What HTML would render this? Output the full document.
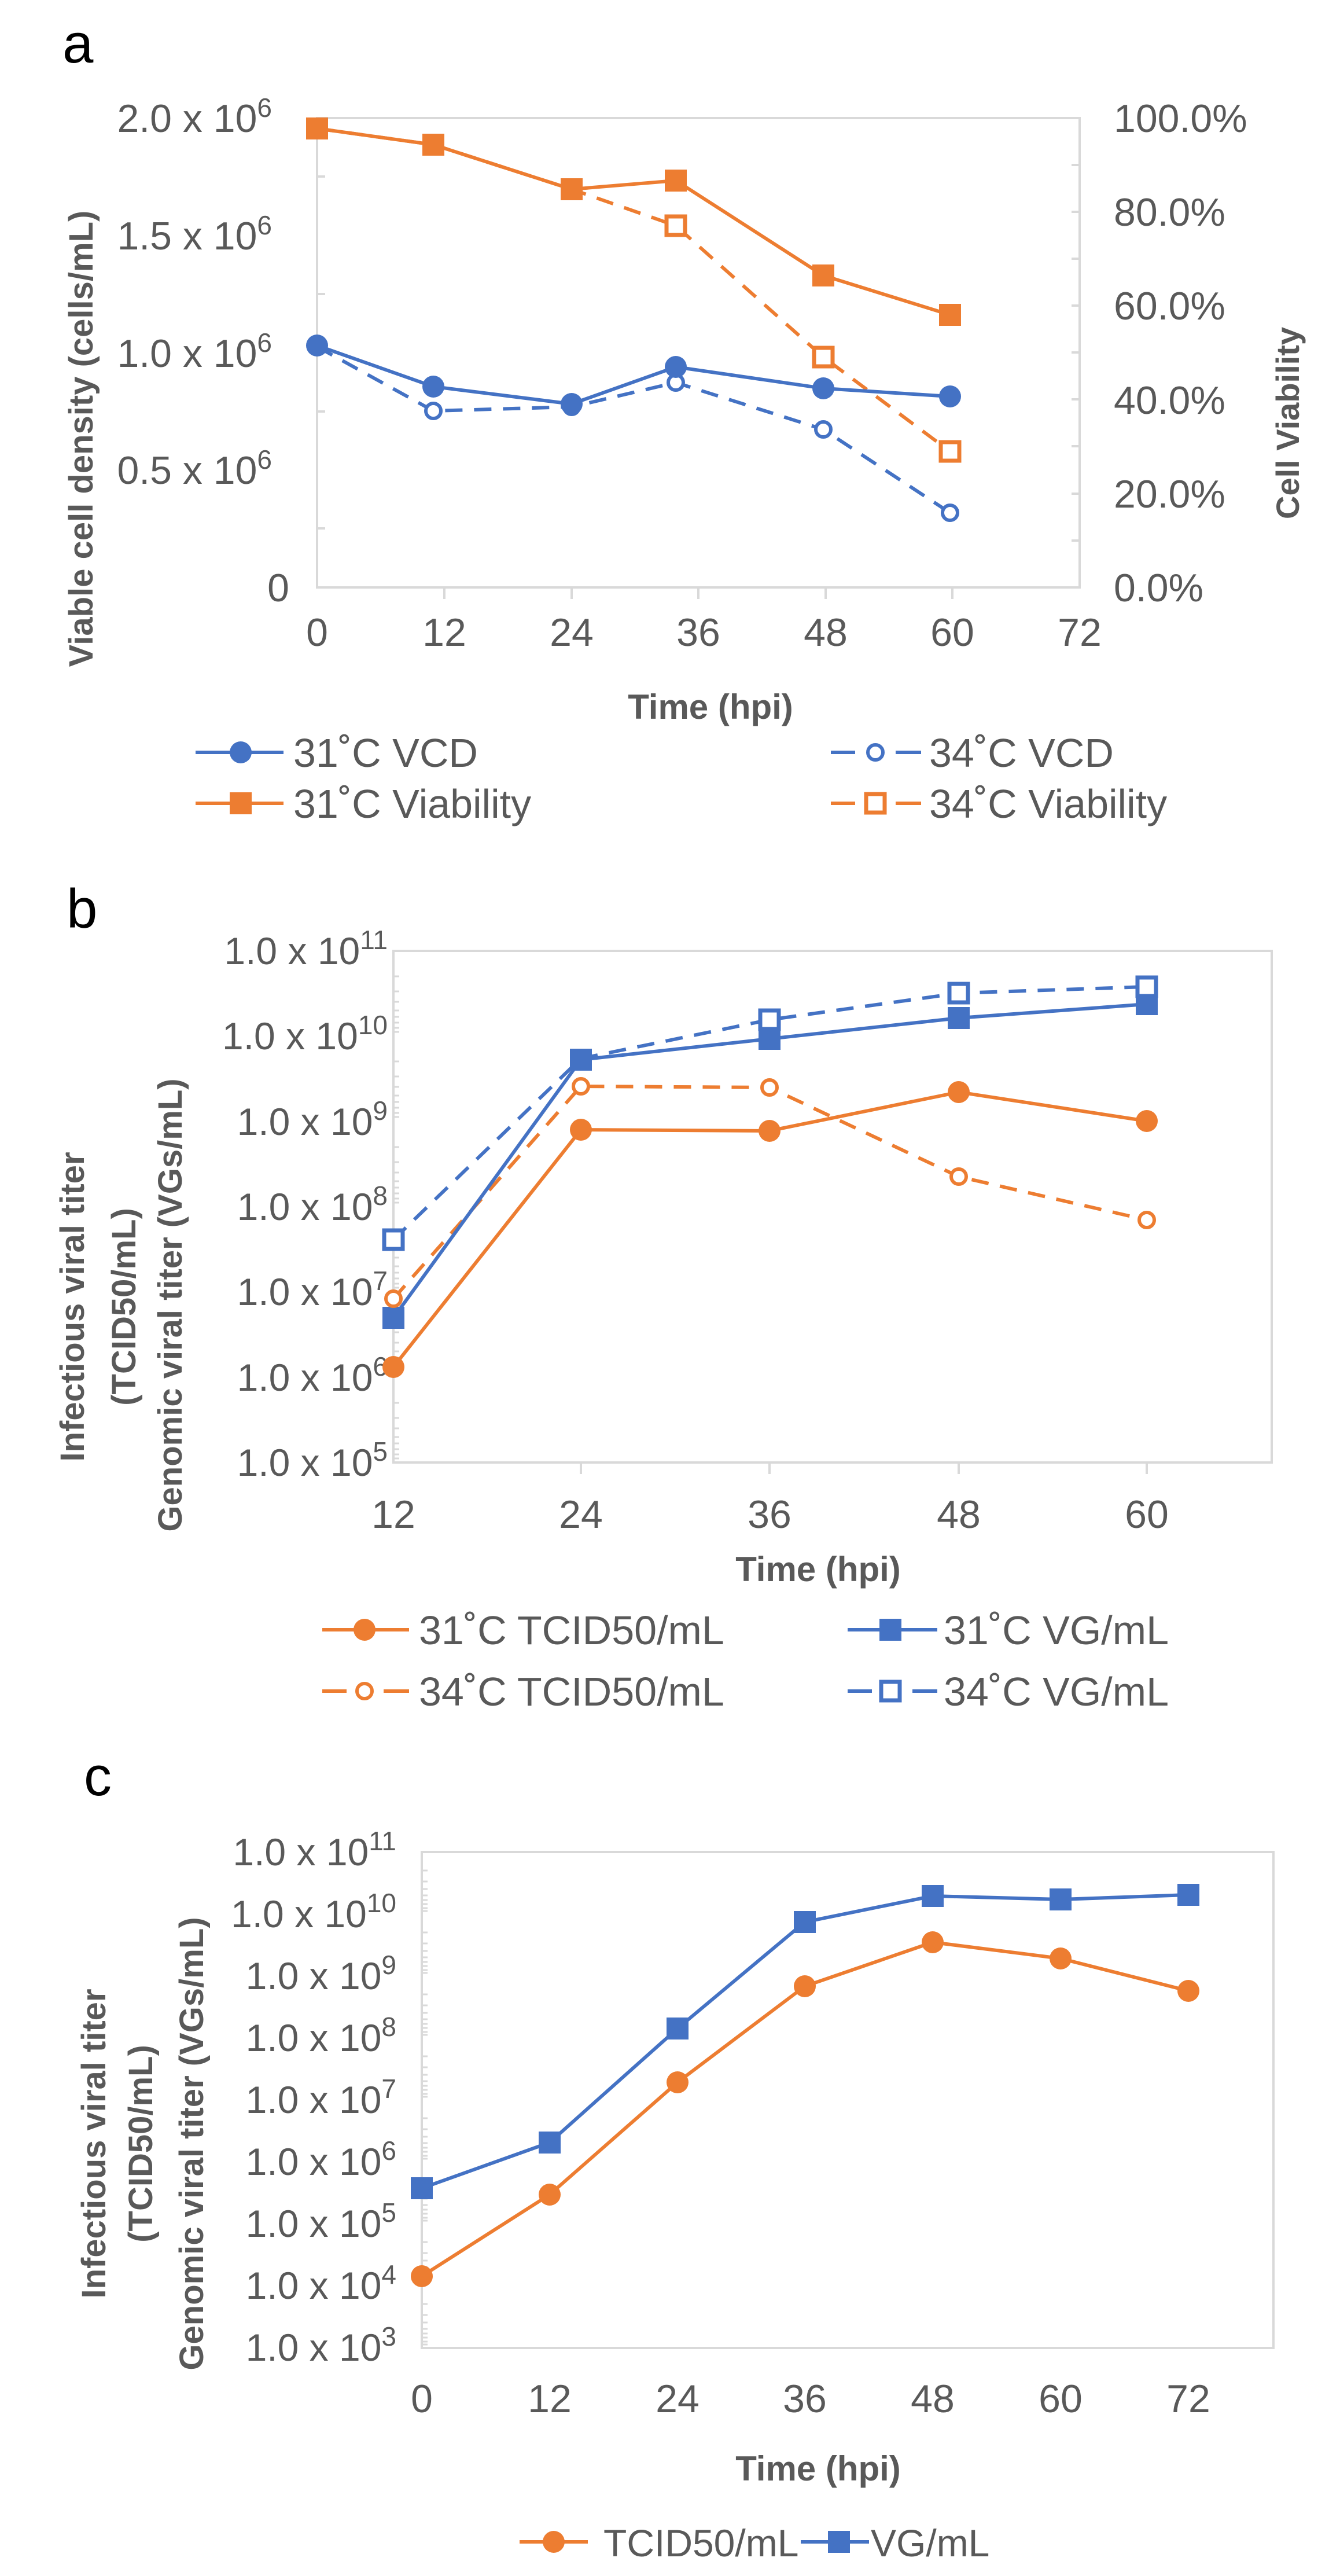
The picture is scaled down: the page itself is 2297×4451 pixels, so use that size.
<!DOCTYPE html>
<html><head><meta charset="utf-8"><style>
html,body{margin:0;padding:0;background:#fff}
svg{display:block}
text{font-family:"Liberation Sans",Arial,sans-serif;fill:#595959}
.b{font-weight:bold}
</style></head><body>
<svg width="2297" height="4451" viewBox="0 0 2297 4451" xmlns="http://www.w3.org/2000/svg">
<!-- ===== Panel a ===== -->
<text x="108" y="108" font-size="96" style="fill:#000">a</text>
<g stroke="#d9d9d9" stroke-width="4" fill="none">
<rect x="548" y="204" width="1318" height="811"/>
<path d="M768 1015v20M988 1015v20M1207 1015v20M1427 1015v20M1646 1015v20M548 305h14M548 508h14M548 711h14M548 913h14M1852 285h14M1852 447h14M1852 609h14M1852 771h14M1852 934h14M1852 366h14M1852 528h14M1852 690h14M1852 853h14"/>
</g>
<g font-size="68" text-anchor="end">
<text x="470" y="228">2.0 x 10<tspan dy="-26" font-size="46">6</tspan></text>
<text x="470" y="431">1.5 x 10<tspan dy="-26" font-size="46">6</tspan></text>
<text x="470" y="634">1.0 x 10<tspan dy="-26" font-size="46">6</tspan></text>
<text x="470" y="836">0.5 x 10<tspan dy="-26" font-size="46">6</tspan></text>
<text x="500" y="1039">0</text>
</g>
<g font-size="68">
<text x="1925" y="228">100.0%</text>
<text x="1925" y="390">80.0%</text>
<text x="1925" y="552">60.0%</text>
<text x="1925" y="715">40.0%</text>
<text x="1925" y="877">20.0%</text>
<text x="1925" y="1039">0.0%</text>
</g>
<g font-size="68" text-anchor="middle">
<text x="548" y="1116">0</text><text x="768" y="1116">12</text><text x="988" y="1116">24</text>
<text x="1207" y="1116">36</text><text x="1427" y="1116">48</text><text x="1646" y="1116">60</text><text x="1866" y="1116">72</text>
</g>
<text class="b" x="1228" y="1242" font-size="60" text-anchor="middle">Time (hpi)</text>
<text class="b" font-size="58" text-anchor="middle" transform="translate(160,758) rotate(-90)">Viable cell density (cells/mL)</text>
<text class="b" font-size="56" text-anchor="middle" transform="translate(2245,731) rotate(-90)">Cell Viability</text>
<g fill="none" stroke-width="6">
<polyline stroke="#ED7D31" stroke-dasharray="30 20" points="548,222 749,250 988,327 1168,390 1423,617 1642,780"/>
<polyline stroke="#4472C4" stroke-dasharray="30 20" points="548,599 749,710 988,703 1168,661 1423,742 1642,886"/>
<polyline stroke="#ED7D31" points="548,222 749,250 988,327 1168,312 1423,476 1642,544"/>
<polyline stroke="#4472C4" points="548,597 749,668 988,698 1168,634 1423,671 1642,685"/>
</g>
<g fill="#fff" stroke-width="7" stroke="#ED7D31">
<rect x="1152" y="374" width="32" height="32"/><rect x="1407" y="601" width="32" height="32"/><rect x="1626" y="764" width="32" height="32"/>
</g>
<g fill="#fff" stroke-width="6" stroke="#4472C4">
<circle cx="749" cy="710" r="13"/><circle cx="988" cy="703" r="13"/><circle cx="1168" cy="661" r="13"/><circle cx="1423" cy="742" r="13"/><circle cx="1642" cy="886" r="13"/>
</g>
<g fill="#ED7D31">
<rect x="529" y="203" width="38" height="38"/><rect x="730" y="231" width="38" height="38"/><rect x="969" y="308" width="38" height="38"/><rect x="1149" y="293" width="38" height="38"/><rect x="1404" y="457" width="38" height="38"/><rect x="1623" y="525" width="38" height="38"/>
</g>
<g fill="#4472C4">
<circle cx="548" cy="597" r="19"/><circle cx="749" cy="668" r="19"/><circle cx="988" cy="698" r="19"/><circle cx="1168" cy="634" r="19"/><circle cx="1423" cy="671" r="19"/><circle cx="1642" cy="685" r="19"/>
</g>
<!-- legend a -->
<path d="M338 1300H490" stroke="#4472C4" stroke-width="6"/><circle cx="416" cy="1300" r="19" fill="#4472C4"/>
<text x="507" y="1325" font-size="70">31˚C VCD</text>
<path d="M338 1388H490" stroke="#ED7D31" stroke-width="6"/><rect x="397" y="1369" width="38" height="38" fill="#ED7D31"/>
<text x="507" y="1413" font-size="70">31˚C Viability</text>
<path d="M1436 1300H1592" stroke="#4472C4" stroke-width="6" stroke-dasharray="42 70 44"/><circle cx="1513" cy="1300" r="13" fill="#fff" stroke="#4472C4" stroke-width="6"/>
<text x="1606" y="1325" font-size="70">34˚C VCD</text>
<path d="M1436 1388H1592" stroke="#ED7D31" stroke-width="6" stroke-dasharray="42 70 44"/><rect x="1497" y="1372" width="32" height="32" fill="#fff" stroke="#ED7D31" stroke-width="7"/>
<text x="1606" y="1413" font-size="70">34˚C Viability</text>

<!-- ===== Panel b ===== -->
<text x="115" y="1603" font-size="96" style="fill:#000">b</text>
<g stroke="#d9d9d9" stroke-width="4" fill="none">
<rect x="680" y="1643" width="1518" height="884"/>
<path d="M1004 2527v20M1330 2527v20M1657 2527v20M1982 2527v20"/>
</g>
<g stroke="#d9d9d9" stroke-width="3">
<path d="M680 1687h10M680 1713h10M680 1731h10M680 1746h10M680 1757h10M680 1767h10M680 1776h10M680 1783h10"/>
<path d="M680 1834h10M680 1860h10M680 1878h10M680 1893h10M680 1904h10M680 1914h10M680 1923h10M680 1930h10"/>
<path d="M680 1982h10M680 2008h10M680 2026h10M680 2041h10M680 2052h10M680 2062h10M680 2071h10M680 2078h10"/>
<path d="M680 2129h10M680 2155h10M680 2173h10M680 2188h10M680 2199h10M680 2209h10M680 2218h10M680 2225h10"/>
<path d="M680 2276h10M680 2302h10M680 2320h10M680 2335h10M680 2346h10M680 2356h10M680 2365h10M680 2372h10"/>
<path d="M680 2424h10M680 2450h10M680 2468h10M680 2483h10M680 2494h10M680 2504h10M680 2513h10M680 2520h10"/>
</g>
<g font-size="66" text-anchor="end">
<text x="670" y="1666">1.0 x 10<tspan dy="-26" font-size="46">11</tspan></text>
<text x="670" y="1813">1.0 x 10<tspan dy="-26" font-size="46">10</tspan></text>
<text x="670" y="1961">1.0 x 10<tspan dy="-26" font-size="46">9</tspan></text>
<text x="670" y="2108">1.0 x 10<tspan dy="-26" font-size="46">8</tspan></text>
<text x="670" y="2255">1.0 x 10<tspan dy="-26" font-size="46">7</tspan></text>
<text x="670" y="2403">1.0 x 10<tspan dy="-26" font-size="46">6</tspan></text>
<text x="670" y="2550">1.0 x 10<tspan dy="-26" font-size="46">5</tspan></text>
</g>
<g font-size="68" text-anchor="middle">
<text x="680" y="2640">12</text><text x="1004" y="2640">24</text><text x="1330" y="2640">36</text><text x="1657" y="2640">48</text><text x="1982" y="2640">60</text>
</g>
<text class="b" x="1414" y="2732" font-size="60" text-anchor="middle">Time (hpi)</text>
<g class="b" font-size="58" text-anchor="middle">
<text transform="translate(145,2258) rotate(-90)">Infectious viral titer</text>
<text transform="translate(234,2258) rotate(-90)">(TCID50/mL)</text>
<text transform="translate(314,2255) rotate(-90)">Genomic viral titer (VGs/mL)</text>
</g>
<g fill="none" stroke-width="6">
<polyline stroke="#4472C4" stroke-dasharray="30 20" points="680,2142 1004,1829 1330,1762 1657,1716 1982,1705"/>
<polyline stroke="#ED7D31" stroke-dasharray="30 20" points="680,2244 1004,1877 1330,1879 1657,2033 1982,2108"/>
<polyline stroke="#ED7D31" points="680,2362 1004,1952 1330,1954 1657,1887 1982,1937"/>
<polyline stroke="#4472C4" points="680,2277 1004,1831 1330,1795 1657,1759 1982,1735"/>
</g>
<g fill="#ED7D31">
<circle cx="680" cy="2362" r="19"/><circle cx="1004" cy="1952" r="19"/><circle cx="1330" cy="1954" r="19"/><circle cx="1657" cy="1887" r="19"/><circle cx="1982" cy="1937" r="19"/>
</g>
<g fill="#4472C4">
<rect x="661" y="2258" width="38" height="38"/><rect x="985" y="1812" width="38" height="38"/><rect x="1311" y="1776" width="38" height="38"/><rect x="1638" y="1740" width="38" height="38"/><rect x="1963" y="1716" width="38" height="38"/>
</g>
<g fill="#fff" stroke-width="6" stroke="#ED7D31">
<circle cx="680" cy="2244" r="13"/><circle cx="1004" cy="1877" r="13"/><circle cx="1330" cy="1879" r="13"/><circle cx="1657" cy="2033" r="13"/><circle cx="1982" cy="2108" r="13"/>
</g>
<g fill="#fff" stroke-width="7" stroke="#4472C4">
<rect x="664" y="2126" width="32" height="32"/><rect x="1314" y="1746" width="32" height="32"/><rect x="1641" y="1700" width="32" height="32"/><rect x="1966" y="1689" width="32" height="32"/>
</g>
<!-- legend b -->
<path d="M557 2816H707" stroke="#ED7D31" stroke-width="6"/><circle cx="630" cy="2816" r="19" fill="#ED7D31"/>
<text x="724" y="2841" font-size="70">31˚C TCID50/mL</text>
<path d="M557 2922H707" stroke="#ED7D31" stroke-width="6" stroke-dasharray="42 64 44"/><circle cx="630" cy="2922" r="13" fill="#fff" stroke="#ED7D31" stroke-width="6"/>
<text x="724" y="2947" font-size="70">34˚C TCID50/mL</text>
<path d="M1465 2816H1620" stroke="#4472C4" stroke-width="6"/><rect x="1520" y="2797" width="38" height="38" fill="#4472C4"/>
<text x="1631" y="2841" font-size="70">31˚C VG/mL</text>
<path d="M1465 2922H1620" stroke="#4472C4" stroke-width="6" stroke-dasharray="42 70 43"/><rect x="1523" y="2906" width="32" height="32" fill="#fff" stroke="#4472C4" stroke-width="7"/>
<text x="1631" y="2947" font-size="70">34˚C VG/mL</text>

<!-- ===== Panel c ===== -->
<text x="145" y="3102" font-size="96" style="fill:#000">c</text>
<g stroke="#d9d9d9" stroke-width="4" fill="none">
<rect x="729" y="3200" width="1472" height="857"/>
</g>
<g stroke="#d9d9d9" stroke-width="3">
<path d="M729 3232h10M729 3251h10M729 3264h10M729 3275h10M729 3283h10M729 3290h10M729 3297h10M729 3302h10
M729 3339h10M729 3358h10M729 3371h10M729 3382h10M729 3390h10M729 3397h10M729 3404h10M729 3409h10
M729 3446h10M729 3465h10M729 3478h10M729 3489h10M729 3497h10M729 3504h10M729 3511h10M729 3516h10
M729 3553h10M729 3572h10M729 3585h10M729 3596h10M729 3604h10M729 3611h10M729 3618h10M729 3623h10
M729 3660h10M729 3679h10M729 3692h10M729 3703h10M729 3711h10M729 3718h10M729 3725h10M729 3730h10
M729 3767h10M729 3786h10M729 3799h10M729 3810h10M729 3818h10M729 3825h10M729 3832h10M729 3837h10
M729 3874h10M729 3893h10M729 3906h10M729 3917h10M729 3925h10M729 3932h10M729 3939h10M729 3944h10
M729 3981h10M729 4000h10M729 4013h10M729 4024h10M729 4032h10M729 4039h10M729 4046h10M729 4051h10"/>
</g>
<g font-size="66" text-anchor="end">
<text x="685" y="3223">1.0 x 10<tspan dy="-26" font-size="46">11</tspan></text>
<text x="685" y="3330">1.0 x 10<tspan dy="-26" font-size="46">10</tspan></text>
<text x="685" y="3437">1.0 x 10<tspan dy="-26" font-size="46">9</tspan></text>
<text x="685" y="3544">1.0 x 10<tspan dy="-26" font-size="46">8</tspan></text>
<text x="685" y="3651">1.0 x 10<tspan dy="-26" font-size="46">7</tspan></text>
<text x="685" y="3758">1.0 x 10<tspan dy="-26" font-size="46">6</tspan></text>
<text x="685" y="3865">1.0 x 10<tspan dy="-26" font-size="46">5</tspan></text>
<text x="685" y="3972">1.0 x 10<tspan dy="-26" font-size="46">4</tspan></text>
<text x="685" y="4079">1.0 x 10<tspan dy="-26" font-size="46">3</tspan></text>
</g>
<g font-size="68" text-anchor="middle">
<text x="729" y="4168">0</text><text x="950" y="4168">12</text><text x="1171" y="4168">24</text><text x="1391" y="4168">36</text>
<text x="1612" y="4168">48</text><text x="1833" y="4168">60</text><text x="2054" y="4168">72</text>
</g>
<text class="b" x="1414" y="4286" font-size="60" text-anchor="middle">Time (hpi)</text>
<g class="b" font-size="58" text-anchor="middle">
<text transform="translate(182,3704) rotate(-90)">Infectious viral titer</text>
<text transform="translate(263,3704) rotate(-90)">(TCID50/mL)</text>
<text transform="translate(351,3704) rotate(-90)">Genomic viral titer (VGs/mL)</text>
</g>
<g fill="none" stroke-width="6">
<polyline stroke="#ED7D31" points="729,3933 950,3792 1171,3598 1391,3432 1612,3356 1833,3384 2054,3440"/>
<polyline stroke="#4472C4" points="729,3781 950,3702 1171,3505 1391,3321 1612,3276 1833,3282 2054,3274"/>
</g>
<g fill="#ED7D31">
<circle cx="729" cy="3933" r="19"/><circle cx="950" cy="3792" r="19"/><circle cx="1171" cy="3598" r="19"/><circle cx="1391" cy="3432" r="19"/><circle cx="1612" cy="3356" r="19"/><circle cx="1833" cy="3384" r="19"/><circle cx="2054" cy="3440" r="19"/>
</g>
<g fill="#4472C4">
<rect x="710" y="3762" width="38" height="38"/><rect x="931" y="3683" width="38" height="38"/><rect x="1152" y="3486" width="38" height="38"/><rect x="1372" y="3302" width="38" height="38"/><rect x="1593" y="3257" width="38" height="38"/><rect x="1814" y="3263" width="38" height="38"/><rect x="2035" y="3255" width="38" height="38"/>
</g>
<!-- legend c -->
<path d="M898 4392H1016" stroke="#ED7D31" stroke-width="6"/><circle cx="957" cy="4392" r="19" fill="#ED7D31"/>
<text x="1043" y="4417" font-size="66">TCID50/mL</text>
<path d="M1384 4392H1502" stroke="#4472C4" stroke-width="6"/><rect x="1431" y="4373" width="38" height="38" fill="#4472C4"/>
<text x="1505" y="4417" font-size="66">VG/mL</text>
</svg>
</body></html>
